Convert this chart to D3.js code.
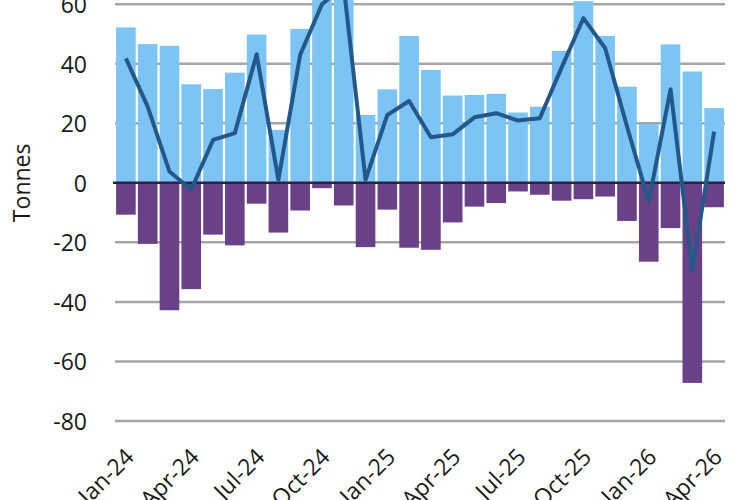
<!DOCTYPE html>
<html>
<head>
<meta charset="utf-8">
<script src="https://cdn.jsdelivr.net/npm/d3@7"></script>
<style>
  body { margin: 0; background: #fff; }
  svg { display: block; }
  .axis text { font-family: "Open Sans", sans-serif; font-size: 23px; fill: #1a1a1a; }
  .grid line { stroke: #a6a6a6; stroke-width: 2.5; }
</style>
</head>
<body>
<svg id="chart" width="750" height="500"></svg>
<script>
// months Jan-24 .. Apr-26
var months = ['Jan-24','Feb-24','Mar-24','Apr-24','May-24','Jun-24','Jul-24','Aug-24','Sep-24','Oct-24','Nov-24','Dec-24',
              'Jan-25','Feb-25','Mar-25','Apr-25','May-25','Jun-25','Jul-25','Aug-25','Sep-25','Oct-25','Nov-25','Dec-25',
              'Jan-26','Feb-26','Mar-26','Apr-26'];
var inflow  = [52.2, 46.6, 46, 33.1, 31.5, 37, 49.8, 17.8, 51.7, 63, 72, 22.8,
               31.4, 49.3, 37.9, 29.3, 29.5, 29.9, 23.6, 25.6, 44.3, 61, 49.3, 32.3,
               19.8, 46.5, 37.4, 25.1];
var outflow = [-10.7, -20.5, -42.8, -35.7, -17.4, -21, -7, -16.7, -9.3, -1.8, -7.6, -21.6,
               -9, -21.8, -22.5, -13.3, -8, -6.8, -2.9, -4, -6, -5.5, -4.6, -12.8,
               -26.5, -15.2, -67.2, -8.2];
var net     = [41.8, 25.6, 3.8, -2.3, 14.4, 16.7, 43.2, 1, 43, 60, 66, 1,
               22.8, 27.5, 15.3, 16.3, 22, 23.4, 20.9, 21.7, 38.7, 55.3, 45.2, 19,
               -6.3, 31.4, -29.5, 17.2];
var yTicks = [-80, -60, -40, -20, 0, 20, 40, 60];
var xLabels = ['Jan-24','Apr-24','Jul-24','Oct-24','Jan-25','Apr-25','Jul-25','Oct-25','Jan-26','Apr-26'];

var svg = d3.select('#chart');
var margin = {left: 115, right: 25, top: 4.2},
    plotW = 750 - margin.left - margin.right;

var x = d3.scaleBand().domain(months).range([margin.left, margin.left + plotW]).paddingInner(0.1).paddingOuter(0.05);
var y = d3.scaleLinear().domain([-80, 60]).range([421, 4.2]);

// gridlines
svg.append('g').attr('class', 'grid')
  .selectAll('line').data(yTicks.filter(function(d) { return d !== 0; })).enter()
  .append('line')
    .attr('x1', margin.left).attr('x2', margin.left + plotW)
    .attr('y1', function(d) { return y(d); }).attr('y2', function(d) { return y(d); });

svg.append('g').selectAll('rect.pos').data(inflow).enter()
  .append('rect')
    .attr('x', function(d, i) { return x(months[i]); })
    .attr('width', x.bandwidth())
    .attr('y', function(d) { return y(d); })
    .attr('height', function(d) { return y(0) - y(d); })
    .attr('fill', '#7cc4f4');

svg.append('g').selectAll('rect.neg').data(outflow).enter()
  .append('rect')
    .attr('x', function(d, i) { return x(months[i]); })
    .attr('width', x.bandwidth())
    .attr('y', y(0))
    .attr('height', function(d) { return y(d) - y(0); })
    .attr('fill', '#6a4186');

// zero line
svg.append('line')
  .attr('x1', margin.left - 2).attr('x2', margin.left + plotW)
  .attr('y1', y(0)).attr('y2', y(0))
  .attr('stroke', '#2e2143').attr('stroke-width', 2.5);

var line = d3.line()
  .x(function(d, i) { return x(months[i]) + x.bandwidth() / 2; })
  .y(function(d) { return y(d); });

svg.append('path').datum(net)
  .attr('d', line)
  .attr('fill', 'none')
  .attr('stroke', '#25588a')
  .attr('stroke-width', 4)
  .attr('stroke-linejoin', 'round');

// y axis labels (plain hyphen like the original)
var yAxis = svg.append('g').attr('class', 'axis')
  .attr('transform', 'translate(' + (margin.left - 28) + ',0)')
  .call(d3.axisLeft(y).tickValues(yTicks).tickSize(0).tickPadding(0).tickFormat(function(d) { return String(d); }));
yAxis.select('.domain').remove();
yAxis.selectAll('text').attr('dy', '0.36em');

// x axis labels
var xAxis = svg.append('g').attr('class', 'axis')
  .attr('transform', 'translate(0,' + 447 + ')')
  .call(d3.axisBottom(x).tickValues(xLabels).tickSize(0).tickPadding(0));
xAxis.select('.domain').remove();
xAxis.selectAll('text')
  .attr('text-anchor', 'end')
  .attr('dy', '0.7em')
  .attr('transform', 'translate(-2,0) rotate(-45)');

svg.append('text')
  .attr('transform', 'translate(30,' + y(0) + ') rotate(-90)')
  .attr('text-anchor', 'middle')
  .attr('font-family', 'Open Sans, sans-serif')
  .attr('font-size', 23)
  .attr('fill', '#1a1a1a')
  .text('Tonnes');
</script>
</body>
</html>
